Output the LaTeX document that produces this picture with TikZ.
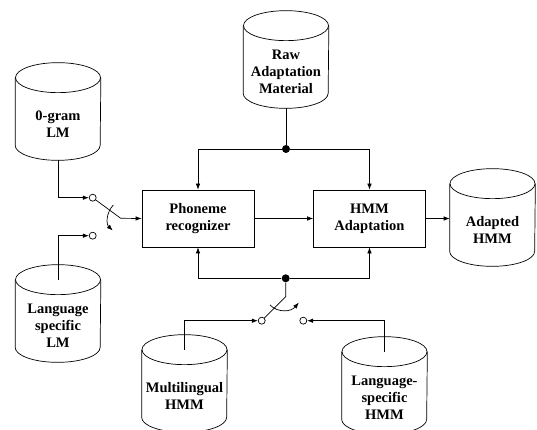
\documentclass[tikz,border=0pt]{standalone}
\usepackage{fontspec}
\setmainfont{Liberation Serif}
\usetikzlibrary{arrows.meta}
\usetikzlibrary{calc}
\usetikzlibrary{positioning}

\newcommand{\lbl}{\fontsize{14.5}{17}\selectfont\bfseries}

\begin{document}
\begin{tikzpicture}[
	x=1pt, y=-1pt, line width=0.7pt,
  > = {Latex[length=6pt,width=4.5pt]},
  db/.style = {rectangle, minimum width=85pt, minimum height=72pt, align=center, inner sep=0pt, font=\lbl},
  block/.style = {draw, rectangle, minimum width=112pt, minimum height=57pt, align=center, font=\lbl},
  contact/.style = {draw, circle, fill=white, inner sep=0pt, minimum size=7pt},
  junction/.style = {circle, fill, inner sep=0pt, minimum size=8pt}
  ]
	\useasboundingbox (0,0) rectangle (537,430);

	% data bases
	\node[db] (lmzero) at (58,124) {0-gram\\LM};
	\node[db] (lmls) at (58,326) {Language\\specific\\LM};
	\node[db] (raw) at (286,72) {Raw\\Adaptation\\Material};
	\node[db] (adapted) at (492.5,230) {Adapted\\HMM};
	\node[db] (multi) at (184.5,396) {Multilingual\\HMM};
	\node[db] (lshmm) at (384.5,398) {Language-\\specific\\HMM};

	% cylinder outlines
	\foreach \n in {lmzero,lmls,raw,adapted,multi,lshmm} {
		\draw ($(\n.north)+(0,-10)$) ellipse [x radius=42.5, y radius=15];
		\draw ($(\n.north west)+(0,-10)$) -- ($(\n.south west)+(0,-15)$)
			arc [start angle=180, end angle=0, x radius=42.5, y radius=15]
			-- ($(\n.north east)+(0,-10)$);
	}

	% processing blocks
	\node[block] (phon) at (198,218.5) {Phoneme\\recognizer};
	\node[block] (adapt) at (369.5,218.5) {HMM\\Adaptation};

	% switches
	\node[contact] (czero) at (92.7,197.7) {};
	\node[contact] (cls) at (92.7,235.7) {};
	\coordinate (pivot) at (120.7,218.3);
	\node[contact] (cmulti) at (261.7,320.7) {};
	\node[contact] (chmm) at (303.3,320.7) {};
	\coordinate (knee) at (285.7,296.7);

	\node[junction] (jtop) at (286,149) {};
	\node[junction] (jbot) at (285.7,278.3) {};

	% connections
	\draw[->] (lmzero.south) |- (czero.west);
	\draw[->] ($(lmls.north)+(0,-10)$) |- (cls.west);
	\draw[->] (czero.-36) -- (pivot) -- (phon.west);
	\draw[->] (113.3,205) .. controls (106,213) and (106,224) .. (112.7,230.5);

	\draw (raw.south) -- (jtop);
	\draw[->] (jtop) -| (phon.north);
	\draw[->] (jtop) -| (adapt.north);

	\draw[->] (phon) -- (adapt);
	\draw[->] (adapt.east) -- (adapt.east -| adapted.west);

	\draw[->] (jbot) -| (phon.south);
	\draw[->] (jbot) -| (adapt.south);
	\draw (jbot) -- (knee) -- (cmulti.45);
	\draw[->] (270,305) .. controls (278,313) and (291,312) .. (298.8,302.5);

	\draw[->] ($(multi.north)+(0,-10)$) |- (cmulti.west);
	\draw[->] ($(lshmm.north)+(0,-10)$) |- (chmm.east);

\end{tikzpicture}
\end{document}
